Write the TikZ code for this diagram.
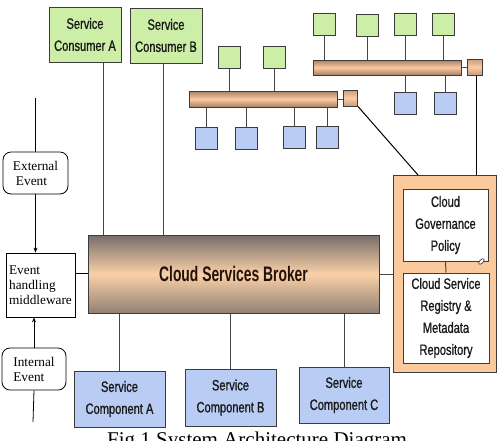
\documentclass[tikz,border=0pt]{standalone}
\usepackage{fontspec}
\newfontfamily\nf[FakeStretch=0.74,FakeBold=0.9]{Liberation Sans}
\newfontfamily\nfb[FakeStretch=0.66]{Liberation Sans}
\newfontfamily\serf{Liberation Serif}
\definecolor{gfill}{RGB}{204,238,166}
\definecolor{bfill}{RGB}{184,204,244}
\definecolor{ofill}{RGB}{250,202,156}
\definecolor{edge}{RGB}{60,60,60}
\definecolor{wire}{RGB}{70,70,70}
\definecolor{busdark}{RGB}{168,128,100}
\definecolor{buslight}{RGB}{250,202,162}
\definecolor{brtop}{RGB}{118,110,106}
\definecolor{brmid}{RGB}{250,208,168}
\definecolor{brbot}{RGB}{146,128,114}
\tikzset{
  bx/.style={draw=edge, line width=1pt, inner sep=0pt, align=center,
    font=\nf\fontsize{15}{22}\selectfont, text={rgb,255:red,25;green,25;blue,25}},
  greenbox/.style={bx, fill=gfill},
  bluebox/.style={bx, fill=bfill},
  whitebox/.style={bx, fill=white},
  sq/.style={draw=edge, line width=1pt, inner sep=0pt, minimum width=22pt, minimum height=22pt},
  gsq/.style={sq, fill=gfill},
  bsq/.style={sq, fill=bfill},
  osq/.style={draw=edge, line width=1pt, inner sep=0pt, top color=busdark!60!buslight, bottom color=busdark!60!buslight, middle color=buslight},
  bus/.style={draw=edge, line width=1pt, inner sep=0pt, top color=busdark, bottom color=busdark, middle color=buslight},
  evt/.style={draw=black, line width=0.8pt, inner sep=0pt, fill=white,
    font=\serf\fontsize{13.3}{15}\selectfont, align=left},
  wr/.style={draw=wire, line width=1pt},
  ar/.style={draw=black, line width=0.8pt, -{Stealth[length=5pt,width=4pt]}},
}
\usetikzlibrary{arrows.meta}
\begin{document}
\begin{tikzpicture}[x=1pt,y=-1pt]
\path[use as bounding box, clip] (0,0) rectangle (502,440);
\fill[white] (0,0) rectangle (502,440);

% consumers
\node[greenbox, minimum width=72pt, minimum height=55pt] (consA) at (85,34.5) {Service\\Consumer A};
\node[greenbox, minimum width=72pt, minimum height=55pt] (consB) at (166,35.5) {Service\\Consumer B};

% broker
\node[draw=edge, line width=1pt, inner sep=0pt, minimum width=291pt, minimum height=78pt,
  top color=brtop, bottom color=brbot, middle color=brmid,
  font=\nfb\bfseries\fontsize{21}{24}\selectfont, text={rgb,255:red,35;green,18;blue,10}] (broker) at (233.5,274) {Cloud Services Broker};

\draw[wr] (consA.south) ++(18,0) coordinate (a1) -- (a1 |- broker.north);
\draw[wr] (consB.south) ++(-3,0) coordinate (b1) -- (b1 |- broker.north);

% components
\node[bluebox, minimum width=91pt, minimum height=56pt] (compA) at (119.5,399) {Service\\Component A};
\node[bluebox, minimum width=91pt, minimum height=57pt] (compB) at (230.5,397.5) {Service\\Component B};
\node[bluebox, minimum width=90pt, minimum height=56pt] (compC) at (344,395) {Service\\Component C};
\draw[wr] (compA.north) -- (compA.north |- broker.south);
\draw[wr] (compB.north) -- (compB.north |- broker.south);
\draw[wr] (compC.north) -- (compC.north |- broker.south);

% events
\node[evt, rounded corners=8pt, minimum width=65pt, minimum height=42pt] (ext) at (35.5,173) {External\\\hspace*{3pt}Event};
\node[evt, minimum width=69pt, minimum height=64pt] (evh) at (40.5,285) {Event\\handling\\middleware};
\node[evt, rounded corners=8pt, minimum width=64pt, minimum height=42pt] (int) at (34,369) {Internal\\Event};
\coordinate (topend) at (35,98);
\coordinate (botend) at (33,422);
\draw[draw=black, line width=0.8pt] (topend) -- (topend |- ext.north);
\draw[ar] (ext.south) -- (ext.south |- evh.north);
\draw[ar] (int.north) -- (int.north |- evh.south);
\draw[draw=black, line width=0.8pt] (int.south) -- (botend);
\draw[draw=black, line width=0.8pt] (evh.east) ++(0,-12) coordinate (e1) -- (e1 -| broker.west);

% governance container
\node[draw=edge, line width=1pt, fill=ofill, minimum width=103pt, minimum height=197pt] (cont) at (444.5,273.5) {};
\node[whitebox, minimum width=85pt, minimum height=72pt] (gov) at (445.5,225) {Cloud\\Governance\\Policy};
\node[whitebox, minimum width=86pt, minimum height=90pt] (reg) at (446,318) {Cloud Service\\Registry \&\\Metadata\\Repository};
\draw[wr] (gov.south) -- (reg.north);
\draw[wr] (broker.east) -- (broker.east -| cont.west);
\draw[draw=edge, line width=0.7pt, fill=white, rotate around={45:([shift={(-5,-5)}]gov.south east)}]
  ([shift={(-5,-5)}]gov.south east) ellipse [x radius=3.5pt, y radius=1.8pt];

% bus 1
\node[bus, minimum width=148pt, minimum height=16pt] (bus1) at (263,99) {};
\node[osq, minimum width=14pt, minimum height=16pt] (s1) at (350.5,98) {};
\draw[wr] (bus1.east) -- (s1.west |- bus1.east);
\node[gsq] (g1) at (229.5,57) {};
\node[gsq] (g2) at (274,57.5) {};
\draw[wr] (g1.south) -- (g1.south |- bus1.north);
\draw[wr] (g2.south) -- (g2.south |- bus1.north);
\node[bsq] (p1) at (206,138.5) {};
\node[bsq] (p2) at (246,138.5) {};
\node[bsq] (p3) at (294,137) {};
\node[bsq] (p4) at (327,137) {};
\foreach \b in {p1,p2,p3,p4} \draw[wr] (\b.north) -- (\b.north |- bus1.south);

% bus 2
\node[bus, minimum width=148pt, minimum height=15pt] (bus2) at (387,67.5) {};
\node[osq, minimum width=15pt, minimum height=16pt] (s2) at (474.5,67) {};
\draw[wr] (bus2.east) -- (s2.west |- bus2.east);
\node[gsq] (h1) at (324.5,24) {};
\node[gsq] (h2) at (367.5,25) {};
\node[gsq] (h3) at (405.5,24) {};
\node[gsq] (h4) at (443.5,24) {};
\foreach \b in {h1,h2,h3,h4} \draw[wr] (\b.south) -- (\b.south |- bus2.north);
\node[bsq] (q1) at (405,103.5) {};
\node[bsq] (q2) at (445,103.5) {};
\foreach \b in {q1,q2} \draw[wr] (\b.north) -- (\b.north |- bus2.south);

% links to container
\draw[draw=black, line width=1pt] (s2.south) ++(1.5,0) coordinate (s2b) -- (s2b |- cont.north);
\coordinate (c1) at (418,175);
\draw[draw=black, line width=1pt] (s1.south east) -- (c1);

% caption
\node[anchor=base west, inner sep=0pt, font=\serf\fontsize{21}{24}\selectfont] (cap) at (107,446) {Fig.1 System Architecture Diagram};
\end{tikzpicture}
\end{document}
